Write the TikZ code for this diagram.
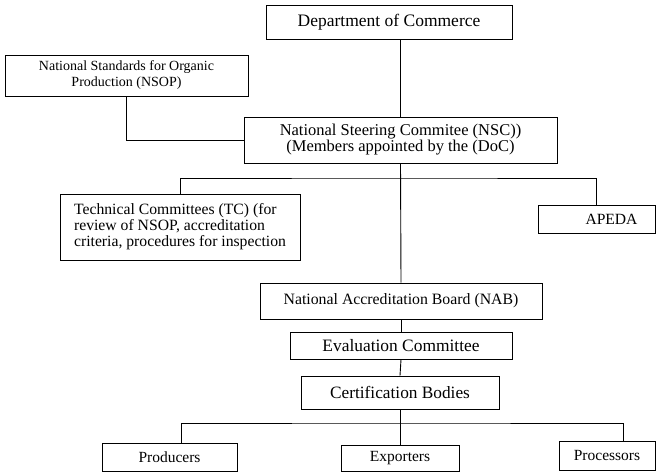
\documentclass[tikz,border=0pt]{standalone}
\usepackage{fontspec}
\setmainfont{Liberation Serif}

\begin{document}
\begin{tikzpicture}[x=1pt, y=-1pt, line width=0.9pt,
    box/.style={draw, inner sep=2pt, align=center},
    txt/.style={font=\fontsize{#1}{16}\selectfont}]
    \useasboundingbox (0,0) rectangle (658,472);

    % Top of the chart
    \node[box, minimum width=246pt, minimum height=34pt, txt=17.5] (doc) at (389,22) {Department of Commerce};
    \node[box, minimum width=243pt, minimum height=41pt, txt=14] (nsop) at (126.5,75.5) {National Standards for Organic\\Production (NSOP)};
    \node[box, minimum width=313pt, minimum height=46pt, txt=16.5] (nsc) at (400.5,140) {National Steering Commitee (NSC))\\(Members appointed by the (DoC)};

    % Committees under the NSC
    \node[box, align=left, minimum width=240pt, minimum height=66pt, txt=15.7] (tc) at (180,227) {Technical Committees (TC) (for\\review of NSOP, accreditation\\criteria, procedures for inspection};
    \node[box, minimum width=117pt, minimum height=28pt, txt=15.6] (apeda) at (596.5,219) {\hspace*{30pt}APEDA};

    % Accreditation chain
    \node[box, minimum width=282pt, minimum height=36pt, txt=15.8] (nab) at (401,301) {National Accreditation Board (NAB)};
    \node[box, minimum width=222pt, minimum height=27pt, txt=17.4] (eval) at (401,345.5) {Evaluation Committee};
    \node[box, minimum width=198pt, minimum height=33pt, txt=17.3] (cert) at (400,392.5) {Certification Bodies};

    % Operators at the bottom
    \node[box, minimum width=135pt, minimum height=28pt, txt=15.5] (prod) at (169.5,457) {Producers};
    \node[box, minimum width=118pt, minimum height=26pt, txt=15.5] (exp) at (400,458) {Exporters};
    \node[box, minimum width=96pt, minimum height=29pt, txt=15.5] (proc) at (607,455.5) {Processors};

    % Branch points
    \coordinate (b1) at (400.5,178);
    \coordinate (b2) at (400,423);

    % Connectors
    \draw (nsc.north) -- (nsc.north |- doc.south);
    \draw (nsop.south) |- (nsc.west);
    \draw (nsc.south) -- (nab.north);
    \draw (tc.north) |- (b1) -| (apeda.north);
    \draw (nab.south) -- (eval.north);
    \draw (eval.south) -- (cert.north);
    \draw (cert.south) -- (exp.north);
    \draw ([xshift=11.5pt]prod.north) |- (b2) -| ([xshift=16pt]proc.north);
\end{tikzpicture}
\end{document}
